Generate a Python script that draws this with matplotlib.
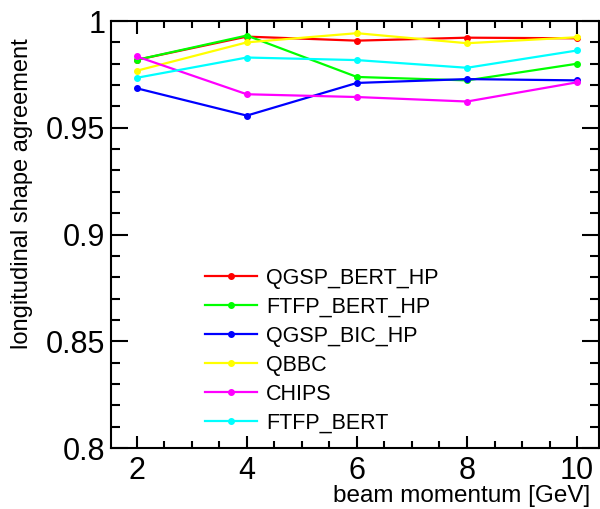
import matplotlib
matplotlib.use("Agg")
import matplotlib.pyplot as plt
from matplotlib.ticker import MultipleLocator

plt.rcParams['font.family'] = ['Liberation Sans', 'DejaVu Sans']

momentum = [2, 4, 6, 8, 10]
qgsp_bert_hp = [0.9818, 0.9927, 0.9908, 0.9922, 0.9919]
ftfp_bert_hp = [0.9818, 0.9932, 0.9738, 0.9722, 0.9800]
qgsp_bic_hp = [0.9685, 0.9557, 0.9710, 0.9728, 0.9722]
qbbc = [0.9767, 0.9900, 0.9943, 0.9896, 0.9924]
chips = [0.9834, 0.9657, 0.9644, 0.9623, 0.9713]
ftfp_bert = [0.9734, 0.9829, 0.9817, 0.9781, 0.9862]

series = [
    ("QGSP_BERT_HP", qgsp_bert_hp, "#ff0000"),
    ("FTFP_BERT_HP", ftfp_bert_hp, "#00ff00"),
    ("QGSP_BIC_HP", qgsp_bic_hp, "#0000ff"),
    ("QBBC", qbbc, "#ffff00"),
    ("CHIPS", chips, "#ff00ff"),
    ("FTFP_BERT", ftfp_bert, "#00ffff"),
]

fig = plt.figure(figsize=(6.0, 5.09), dpi=100)
ax = fig.add_axes([0.185, 0.1198, 0.813, 0.8389])

for name, vals, col in series:
    ax.plot(momentum, vals, color=col, linewidth=1.6, marker="o", markersize=4, label=name)

ax.set_xlim(1.533, 10.394)
ax.set_ylim(0.8, 1.0)
ax.xaxis.set_major_locator(MultipleLocator(2))
ax.xaxis.set_minor_locator(MultipleLocator(0.5))
ax.yaxis.set_minor_locator(MultipleLocator(0.01))
ax.set_yticks([0.8, 0.85, 0.9, 0.95, 1.0])
ax.set_yticklabels(["0.8", "0.85", "0.9", "0.95", "1"])

ax.tick_params(which="both", direction="in", top=True, right=True, width=1.5, labelsize=22)
ax.tick_params(axis="x", which="major", length=9, pad=6)
ax.tick_params(axis="x", which="minor", length=5)
ax.tick_params(axis="y", which="major", length=12, pad=4)
ax.tick_params(axis="y", which="minor", length=6.5)
for sp in ax.spines.values():
    sp.set_linewidth(1.5)

fig.text(590 / 600, 1 - 496 / 509, "beam momentum [GeV]", ha="right", va="center", fontsize=17.5)
fig.text(22 / 600, 1 - 194 / 509, "longitudinal shape agreement", ha="center", va="center",
         rotation=90, fontsize=17)

ax.legend(loc="upper left", bbox_to_anchor=(205 / 600, 1 - 268 / 509), bbox_transform=fig.transFigure,
          frameon=False, fontsize=15.5, handlelength=2.4, handletextpad=0.45, labelspacing=0.37,
          borderpad=0, borderaxespad=0)

fig.savefig("out.png", dpi=100)
